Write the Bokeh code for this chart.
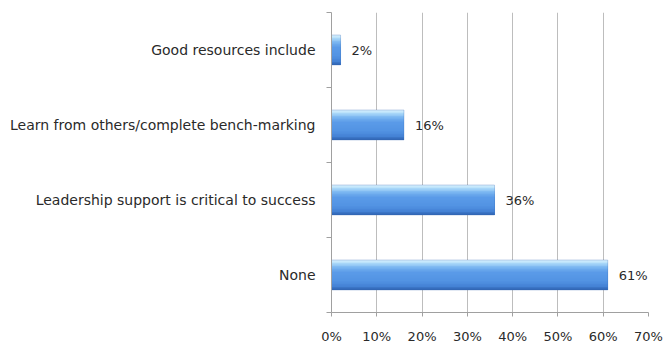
from bokeh.plotting import figure
from bokeh.models import ColumnDataSource, FixedTicker, Range1d
from bokeh.core.properties import value
from bokeh.embed import file_html
from bokeh.resources import INLINE

# Data (bottom to top)
categories = ["None", "Leadership support is critical to success",
              "Learn from others/complete bench-marking", "Good resources include"]
values = [61, 36, 16, 2]
labels = ["61%", "36%", "16%", "2%"]
x_ticks = [0, 10, 20, 30, 40, 50, 60, 70]
x_tick_labels = ["0%", "10%", "20%", "30%", "40%", "50%", "60%", "70%"]

FONT = "DejaVu Sans"
TXT = "#2a2a2a"
ys = [i + 0.5 for i in range(len(categories))]

p = figure(width=664, height=347, output_backend="svg", toolbar_location=None,
           x_range=Range1d(0, 70), y_range=Range1d(0, len(categories)),
           min_border_left=331, min_border_right=16, min_border_top=12,
           min_border_bottom=35)
p.outline_line_color = None
p.background_fill_color = "white"

# gradient bar via layered strips (each from its top edge down to bar bottom)
stops = [(0.0, (0xe0, 0xf4, 0xfe)), (0.1, (0xb0, 0xdd, 0xfa)), (0.25, (0x78, 0xb4, 0xf0)),
         (0.4, (0x5b, 0x9b, 0xe8)), (0.7, (0x52, 0x93, 0xe3)), (0.88, (0x44, 0x81, 0xd5)),
         (1.0, (0x2c, 0x60, 0xae))]

def col_at(t):
    for (t0, c0), (t1, c1) in zip(stops[:-1], stops[1:]):
        if t0 <= t <= t1:
            f = (t - t0) / (t1 - t0)
            return "#%02x%02x%02x" % tuple(int(round(a + (b - a) * f)) for a, b in zip(c0, c1))
    return "#%02x%02x%02x" % stops[-1][1]

bar_h = 0.4
N = 20
sh = bar_h / N
for k in range(N):
    t = (k + 0.5) / N
    h = bar_h - k * sh
    src = ColumnDataSource(dict(y=[y - bar_h / 2 + h / 2 for y in ys], v=values))
    p.hbar(y="y", right="v", left=0, height=h, source=src,
           fill_color=col_at(t), line_color=None)

# outline
src_b = ColumnDataSource(dict(y=ys, v=values, lab=labels))
p.hbar(y="y", right="v", left=0, height=bar_h, source=src_b,
       fill_color=None, line_color="#3b6fb8", line_width=0.6, line_alpha=0.5)

p.text(x="v", y="y", text="lab", source=src_b, x_offset=11,
       text_baseline="middle", text_align="left", text_font=value(FONT),
       text_font_size="13px", text_color=TXT)

# grid
p.ygrid.grid_line_color = None
p.xgrid.ticker = FixedTicker(ticks=x_ticks)
p.xgrid.grid_line_color = "#bdbdbd"
p.xgrid.grid_line_width = 1

# x axis
p.xaxis.ticker = FixedTicker(ticks=x_ticks)
p.xaxis.major_label_overrides = {t: s for t, s in zip(x_ticks, x_tick_labels)}
p.xaxis.axis_line_color = "#a0a0a0"
p.xaxis.major_tick_line_color = "#a0a0a0"
p.xaxis.major_tick_out = 4
p.xaxis.major_tick_in = 0
p.xaxis.minor_tick_line_color = None
p.xaxis.major_label_standoff = 12
p.xaxis.major_label_text_font = FONT
p.xaxis.major_label_text_font_size = "13px"
p.xaxis.major_label_text_color = TXT

# y axis
p.yaxis.ticker = FixedTicker(ticks=ys, minor_ticks=list(range(len(categories) + 1)))
p.yaxis.major_label_overrides = {y: c for y, c in zip(ys, categories)}
p.yaxis.axis_line_color = "#a0a0a0"
p.yaxis.major_tick_line_color = None
p.yaxis.minor_tick_line_color = "#a0a0a0"
p.yaxis.minor_tick_out = 5
p.yaxis.minor_tick_in = 0
p.yaxis.major_label_standoff = 10
p.yaxis.major_label_text_font = FONT
p.yaxis.major_label_text_font_size = "14px"
p.yaxis.major_label_text_color = TXT

open("out.html", "w").write(file_html(p, INLINE))
